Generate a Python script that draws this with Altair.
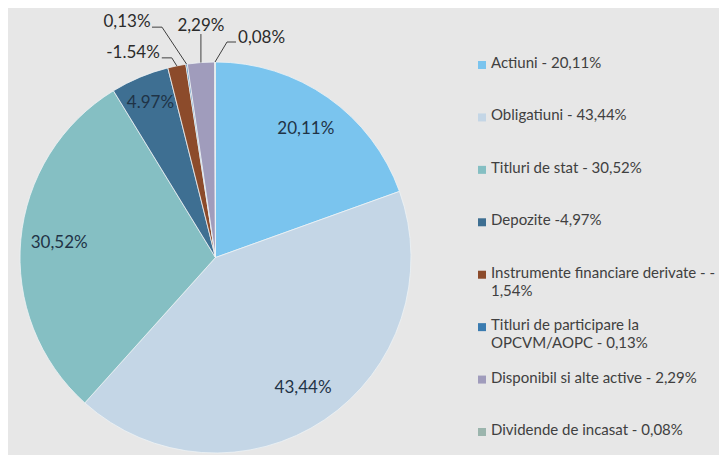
import altair as alt
import pandas as pd

categories = [
    "Actiuni",
    "Obligatiuni",
    "Titluri de stat",
    "Depozite",
    "Instrumente financiare derivate",
    "Titluri de participare la OPCVM/AOPC",
    "Disponibil si alte active",
    "Dividende de incasat",
]
values = [20.11, 43.44, 30.52, 4.97, 1.54, 0.13, 2.29, 0.08]
slice_labels = ["20,11%", "43,44%", "30,52%", "4.97%", "-1.54%", "0,13%", "2,29%", "0,08%"]
legend_labels = [
    "Actiuni - 20,11%",
    "Obligatiuni - 43,44%",
    "Titluri de stat - 30,52%",
    "Depozite -4,97%",
    "Instrumente financiare derivate - -\n1,54%",
    "Titluri de participare la\nOPCVM/AOPC - 0,13%",
    "Disponibil si alte active - 2,29%",
    "Dividende de incasat - 0,08%",
]
colors = ["#7ac4ee", "#c4d6e6", "#85bfc3", "#3e6f92", "#8c4b2b", "#3a7bb0", "#a09cbc", "#9bb5ad"]

df = pd.DataFrame({
    "idx": list(range(len(categories))),
    "cat": categories,
    "value": values,
    "label": slice_labels,
    "legend": legend_labels,
})

# leader-line layout for the small slices (offsets from the slice edge point)
leader_cats = ["Instrumente financiare derivate", "Titluri de participare la OPCVM/AOPC",
               "Disponibil si alte active", "Dividende de incasat"]
leader_layout = pd.DataFrame({
    "cat": leader_cats,
    "ox1": [-5, -24.6, 0, 12],
    "oy1": [-8, -37, -28.5, -20],
    "ox2": [-15, -34.6, 0, 21],
    "tx": [-17, -36, 0, 23],
    "ty": [-13, -42, -37, -24],
    "al": ["right", "right", "center", "left"],
})

CX, CY, R = 207.5, 249.5, 195.5
FONT = "Lato"
color_scale = alt.Scale(domain=categories, range=colors)

base = alt.Chart(df).encode(
    theta=alt.Theta("value:Q", stack=True),
    order=alt.Order("idx:Q"),
    x=alt.value(CX),
    y=alt.value(CY),
)

arc = base.mark_arc(outerRadius=R, stroke="#eef2f5", strokeWidth=0.8).encode(
    color=alt.Color("cat:N", scale=color_scale, legend=None)
)

text_in = base.transform_calculate(
    inner="datum.idx < 3 ? datum.label : ''"
).mark_text(radius=157, font=FONT, fontSize=17, color="#1f3346").encode(text="inner:N")

text_dep = base.transform_calculate(
    inner="datum.idx == 3 ? datum.label : ''"
).mark_text(radius=168, font=FONT, fontSize=17, color="#1f3346").encode(text="inner:N")

geo = alt.Chart(df).transform_window(
    cum="sum(value)", sort=[alt.SortField("idx")], frame=[None, 0]
).transform_joinaggregate(
    total="sum(value)"
).transform_calculate(
    a="2*PI*(datum.cum - datum.value/2)/datum.total"
).transform_calculate(
    ex=f"{CX} + {R}*sin(datum.a)",
    ey=f"{CY} - {R}*cos(datum.a)",
).transform_lookup(
    lookup="cat",
    from_=alt.LookupData(leader_layout, "cat", ["ox1", "oy1", "ox2", "tx", "ty", "al"]),
).transform_filter(
    "isValid(datum.ox1)"
).transform_calculate(
    x1="datum.ex + datum.ox1",
    y1="datum.ey + datum.oy1",
    x2="datum.ex + datum.ox2",
    lx="datum.ex + datum.tx",
    ly="datum.ey + datum.ty",
)

seg1 = geo.mark_rule(color="#404040", strokeWidth=1).encode(
    x=alt.X("ex:Q", scale=None, axis=None),
    y=alt.Y("ey:Q", scale=None, axis=None),
    x2="x1:Q",
    y2="y1:Q",
)
seg2 = geo.mark_rule(color="#404040", strokeWidth=1).encode(
    x=alt.X("x1:Q", scale=None, axis=None),
    y=alt.Y("y1:Q", scale=None, axis=None),
    x2="x2:Q",
    y2="y1:Q",
)

def out_text(al):
    return geo.transform_filter(f"datum.al == '{al}'").mark_text(
        align=al, baseline="middle", font=FONT, fontSize=17, color="#2b2b2b"
    ).encode(
        x=alt.X("lx:Q", scale=None, axis=None),
        y=alt.Y("ly:Q", scale=None, axis=None),
        text="label:N",
    )

pie = alt.layer(
    arc, text_in, text_dep, seg1, seg2, out_text("right"), out_text("center"), out_text("left")
).properties(width=440, height=440)

leg_y = alt.Y(
    "cat:N",
    scale=alt.Scale(type="point", domain=categories, range=[57, 424], padding=0),
    axis=None,
)
leg_sym = alt.Chart(df).mark_square(size=64, opacity=1).encode(
    y=leg_y,
    x=alt.value(34),
    color=alt.Color("cat:N", scale=color_scale, legend=None),
)
leg_txt = alt.Chart(df).mark_text(
    align="left", baseline="top", dy=-9, lineBreak="\n", lineHeight=18,
    font=FONT, fontSize=15, color="#404040",
).encode(
    y=leg_y,
    x=alt.value(43),
    text="legend:N",
)
legend = alt.layer(leg_sym, leg_txt).properties(width=271, height=440)

chart = alt.hconcat(pie, legend, spacing=0).properties(
    padding=0, background="#e7e7e7"
).configure_view(strokeWidth=0)

chart.save("out.html", embed_options={"renderer": "svg", "actions": False})
